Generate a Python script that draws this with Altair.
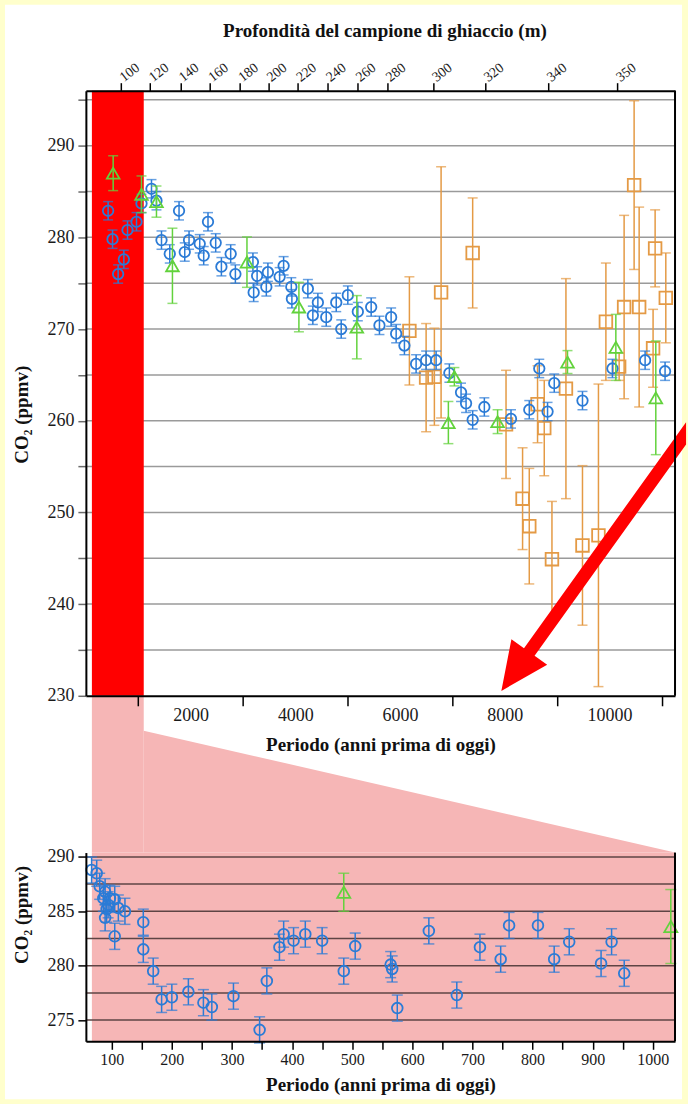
import altair as alt
import pandas as pd

SERIF = "Liberation Serif"
BLUE = "#2B7BD6"
GREEN = "#62D23C"
ORANGE = "#E49A45"
RED = "#FF0000"
PINK = "#F6B6B6"
YELLOW = "#FFFFCC"
GRID_TOP = "#9A9A9A"
GRID_BOT = "#5E4444"

# ---------------- data: upper panel (years before present, CO2 ppmv) ----------------
blue_top_year = [425, 509, 616, 725, 795, 967, 1062, 1253, 1348, 1444,
                 1602, 1779, 1888, 1970, 2174, 2250, 2332, 2479, 2588, 2765,
                 2855, 3190, 3204, 3270, 3446, 3476, 3700, 3776, 3923, 3934,
                 4239, 4334, 4430, 4590, 4781, 4876, 5002, 5193, 5448, 5606,
                 5829, 5925, 6083, 6306, 6497, 6688, 6941, 7164, 7260, 7386,
                 7609, 8118, 8467, 8658, 8816, 8944, 9483, 10055, 10679, 11060]
blue_top_co2 = [282.9, 279.8, 276.0, 277.6, 280.8, 281.7, 283.7, 285.3, 284.0, 279.7,
                278.2, 282.9, 278.4, 279.7, 279.3, 278.0, 281.7, 279.4, 276.8, 278.2,
                276.0, 277.3, 274.0, 275.8, 274.6, 276.2, 275.7, 276.9, 274.6, 273.3,
                274.4, 271.5, 272.9, 271.3, 272.9, 270.0, 273.7, 271.9, 272.4, 270.4,
                271.3, 269.5, 268.2, 266.2, 266.6, 266.6, 265.2, 263.1, 261.9, 260.1,
                261.5, 260.2, 261.2, 265.7, 261.0, 264.1, 262.2, 265.7, 266.6, 265.4]
blue_top_err = [1.0, 1.0, 1.0, 1.0, 1.0, 1.0, 1.0, 1.0, 1.0, 1.0,
                1.0, 1.0, 1.0, 1.0, 1.0, 1.0, 1.0, 1.0, 1.0, 1.0,
                1.0, 1.0, 1.0, 1.0, 1.0, 1.0, 1.0, 1.0, 1.0, 1.0,
                1.0, 1.0, 1.0, 1.0, 1.0, 1.0, 1.0, 1.0, 1.0, 1.0,
                1.0, 1.0, 1.0, 1.0, 1.0, 1.0, 1.0, 1.0, 1.0, 1.0,
                1.0, 1.0, 1.0, 1.0, 1.0, 1.0, 1.0, 1.0, 1.0, 1.0]

green_top_year = [521, 1062, 1348, 1653, 3076, 4068, 5174, 6922, 7037, 7862, 9197, 10120, 10883]
green_top_co2 = [287.0, 284.7, 283.9, 276.9, 277.3, 272.4, 270.2, 259.8, 264.8, 259.9, 266.4, 268.0, 262.5]
green_top_err = [1.9, 2.0, 1.7, 4.1, 2.75, 2.7, 3.45, 2.3, 1.0, 1.3, 1.25, 3.6, 6.2]

orange_year = [6178, 6497, 6655, 6783, 7386, 8023, 8339, 8467, 8625, 8753,
               8900, 9167, 9483, 9788, 9930, 10183, 10278, 10469, 10565, 10870,
               11074, 10831]
orange_co2 = [269.8, 264.7, 264.8, 274.0, 278.3, 259.6, 251.5, 248.5, 261.8, 259.2,
              244.9, 263.5, 246.4, 247.5, 270.8, 265.9, 272.4, 285.7, 272.4, 278.8,
              273.4, 267.9]
orange_err = [5.9, 5.9, 5.3, 13.7, 6.0, 5.9, 5.55, 6.3, 4.2, 5.2,
              6.3, 12.0, 8.7, 16.5, 6.4, 1.5, 10.0, 9.2, 10.9, 4.2,
              4.9, 4.25]

# depth scale (top axis): depth label -> age position
depth_labels = ["100", "120", "140", "160", "180", "200", "220", "240", "260", "280",
                "300", "320", "340", "350"]
depth_ages = [673, 1229, 1802, 2365, 2937, 3485, 4048, 4613, 5185, 5757,
              6641, 7626, 8830, 10153]

bottom_ticks_top = [1000, 2000, 3000, 4000, 5000, 6000, 7000, 8000, 9000, 10000, 11000]
left_ticks_top = [230, 235, 240, 245, 250, 255, 260, 265, 270, 275, 280, 285, 290, 295]
grid_top = [235, 240, 245, 250, 255, 260, 265, 270, 275, 280, 285, 290, 295]

# highlighted period and zoom connector
band_year = [115, 1105]
connector_year = [1105, 11250]
connector_top = [226.2, 212.9]
connector_bottom = 212.9

# arrow anchor (data position of the arrow symbol's centre)
arrow_year = [9802]
arrow_co2 = [244.8]
ARROW_PATH = ("M-0.98,1.31L-0.521,1.048L-0.647,0.958L0.87,-1.157L0.87,-1.381"
              "L-0.753,0.882L-0.879,0.792Z")

# ---------------- data: lower panel (last millennium) ----------------
blue_bot_year = [66.5, 75, 80, 86, 89, 89, 91.5, 94, 97, 105,
                 105, 111, 122, 152.5, 152.5, 169, 183, 200, 227.5, 252.5,
                 266.5, 302.5, 346, 358, 379, 386, 402.5, 422, 450, 486,
                 505, 564, 566.5, 575, 627.5, 674, 712.5, 747, 761, 809,
                 836, 861, 914, 931.5, 952.5]
blue_bot_co2 = [288.8, 288.5, 287.3, 286.2, 286.8, 284.4, 285.2, 285.6, 286.2, 286.1,
                282.7, 285.3, 285.0, 284.0, 281.5, 279.5, 276.9, 277.1, 277.6, 276.6,
                276.2, 277.2, 274.1, 278.6, 281.7, 282.9, 282.3, 282.9, 282.3, 279.5,
                281.8, 280.1, 279.7, 276.1, 283.2, 277.3, 281.7, 280.6, 283.7, 283.7,
                280.6, 282.2, 280.2, 282.2, 279.3]
blue_bot_err = [1.2, 1.2, 1.2, 1.2, 1.2, 1.2, 1.2, 1.2, 1.2, 1.2,
                1.2, 1.2, 1.2, 1.2, 1.2, 1.2, 1.2, 1.2, 1.2, 1.2,
                1.2, 1.2, 1.2, 1.2, 1.2, 1.2, 1.2, 1.2, 1.2, 1.2,
                1.2, 1.2, 1.2, 1.2, 1.2, 1.2, 1.2, 1.2, 1.2, 1.2,
                1.2, 1.2, 1.2, 1.2, 1.2]
green_bot_year = [486, 1030]
green_bot_co2 = [286.75, 283.6]
green_bot_err = [1.75, 3.4]

bottom_ticks_bot = [100, 150, 200, 250, 300, 350, 400, 450, 500, 550, 600, 650, 700,
                    750, 800, 850, 900, 950, 1000]
left_ticks_bot = [275, 280, 285, 290]
grid_bot = [275, 277.5, 280, 282.5, 285, 287.5, 290]
pink_year = [67, 1037]

# ---------------- layout ----------------
TOP_X = [0, 11250]
TOP_Y = [230, 296]
TOP_W, TOP_H = 590, 606
BOT_X = [57, 1037]
BOT_Y = [273.05, 290.4]
BOT_W, BOT_H = 590, 189
GAP = 157

xs_t = alt.Scale(domain=TOP_X, nice=False, zero=False)
ys_t = alt.Scale(domain=TOP_Y, nice=False, zero=False)
xs_b = alt.Scale(domain=BOT_X, nice=False, zero=False)
ys_b = alt.Scale(domain=BOT_Y, nice=False, zero=False)


def frame(years, values, errs):
    return pd.DataFrame({"year": years, "co2": values,
                         "lo": [v - e for v, e in zip(values, errs)],
                         "hi": [v + e for v, e in zip(values, errs)]})


def series(df, xs, ys, color, shape, size, cap):
    base = alt.Chart(df)
    X = alt.X("year:Q", scale=xs, axis=None)
    bar = base.mark_rule(color=color, strokeWidth=1.5).encode(
        x=X, y=alt.Y("lo:Q", scale=ys, axis=None), y2="hi:Q")
    caps = base.transform_fold(["lo", "hi"], as_=["k", "v"]).mark_tick(
        color=color, thickness=1.5, size=cap, orient="horizontal").encode(
        x=X, y=alt.Y("v:Q", scale=ys, axis=None))
    pts = base.mark_point(shape=shape, filled=False, color=color, strokeWidth=1.8,
                          size=size, opacity=1).encode(
        x=X, y=alt.Y("co2:Q", scale=ys, axis=None))
    return [bar, caps, pts]


one = pd.DataFrame({"a": [0]})

# ---- upper panel ----
white = alt.Chart(one).mark_rect(color="white").encode(
    x=alt.value(-81), x2=alt.value(597), y=alt.value(-86), y2=alt.value(1010))

grid_t = alt.Chart(pd.DataFrame({"g": grid_top})).mark_rule(
    color=GRID_TOP, strokeWidth=1.5).encode(y=alt.Y("g:Q", scale=ys_t, axis=None))

strip = alt.Chart(pd.DataFrame({"x0": [band_year[0]], "x1": [band_year[1]],
                                "y0": [TOP_Y[0]], "y1": [connector_bottom]})).mark_rect(
    color=PINK, clip=False).encode(
    x=alt.X("x0:Q", scale=xs_t, axis=None), x2="x1:Q",
    y=alt.Y("y0:Q", scale=ys_t, axis=None), y2="y1:Q")

tri = alt.Chart(pd.DataFrame({"x": connector_year, "y": connector_top,
                              "y2": [connector_bottom, connector_bottom]})).mark_area(
    color=PINK, clip=False, opacity=1).encode(
    x=alt.X("x:Q", scale=xs_t, axis=None),
    y=alt.Y("y:Q", scale=ys_t, axis=None), y2="y2:Q")

band = alt.Chart(pd.DataFrame({"x0": [band_year[0]], "x1": [band_year[1]],
                               "y0": [TOP_Y[0]], "y1": [TOP_Y[1]]})).mark_rect(
    color=RED).encode(
    x=alt.X("x0:Q", scale=xs_t, axis=None), x2="x1:Q",
    y=alt.Y("y0:Q", scale=ys_t, axis=None), y2="y1:Q")

orange_layers = series(frame(orange_year, orange_co2, orange_err), xs_t, ys_t,
                       ORANGE, "square", 160, 10)
blue_layers = series(frame(blue_top_year, blue_top_co2, blue_top_err), xs_t, ys_t,
                     BLUE, "circle", 110, 10)
green_layers = series(frame(green_top_year, green_top_co2, green_top_err), xs_t, ys_t,
                      GREEN, "triangle-up", 160, 10)

arrow = alt.Chart(pd.DataFrame({"x": arrow_year, "y": arrow_co2})).mark_point(
    shape=ARROW_PATH, filled=True, color=RED, opacity=1, size=40000,
    strokeWidth=0, clip=False).encode(
    x=alt.X("x:Q", scale=xs_t, axis=None), y=alt.Y("y:Q", scale=ys_t, axis=None))

right_t = alt.Chart(pd.DataFrame({"x": [TOP_X[1]], "y": [TOP_Y[0]], "y2": [TOP_Y[1]]})).mark_rule(
    color="black", strokeWidth=2).encode(
    x=alt.X("x:Q", scale=xs_t, axis=None), y=alt.Y("y:Q", scale=ys_t, axis=None), y2="y2:Q")

axes_t = alt.Chart(pd.DataFrame({"year": [TOP_X[0]], "co2": [TOP_Y[0]]})).mark_point(
    opacity=0).encode(
    x=alt.X("year:Q", scale=xs_t, axis=alt.Axis(
        values=bottom_ticks_top,
        labelExpr="datum.value % 2000 == 0 ? '' + datum.value : ''",
        tickOpacity={"condition": {"test": "datum.value % 2000 == 0", "value": 0}, "value": 1},
        tickSize=10, tickWidth=1.5, tickColor="black", labelPadding=1,
        domainColor="black", domainWidth=2, grid=False, zindex=1,
        labelFlush=False, labelOverlap=False, labelFontSize=18,
        title="Periodo (anni prima di oggi)", titleX=295, titleY=49,
        titleBaseline="middle", titleFontSize=19)),
    y=alt.Y("co2:Q", scale=ys_t, axis=alt.Axis(
        values=left_ticks_top,
        labelExpr="datum.value % 10 == 0 ? '' + datum.value : ''",
        tickSize=8, tickWidth=1.5, tickColor="#6A6A6A", labelPadding=4,
        domainColor="black", domainWidth=2, grid=False, zindex=1,
        labelFlush=False, labelOverlap=False, labelFontSize=18,
        title="CO₂ (ppmv)", titleX=-64, titleY=324, titleAngle=270,
        titleAlign="center", titleBaseline="middle", titleFontSize=19)))

label_expr_depth = ("[" + ",".join("'%s'" % s for s in depth_labels) + "][indexof(["
                    + ",".join(str(a) for a in depth_ages) + "], datum.value)]")
axes_depth = alt.Chart(pd.DataFrame({"age": depth_ages})).mark_point(opacity=0).encode(
    x=alt.X("age:Q", scale=xs_t, axis=alt.Axis(
        orient="top", values=depth_ages, labelExpr=label_expr_depth,
        labelAngle=322, labelAlign="left", labelBaseline="middle", labelPadding=4,
        tickSize=8, tickWidth=1.5, tickColor="black",
        domainColor="black", domainWidth=2, grid=False, zindex=1,
        labelFlush=False, labelOverlap=False, labelFontSize=14, labelBound=False,
        title="Profondità del campione di ghiaccio (m)", titleX=299, titleY=-60,
        titleBaseline="middle", titleFontSize=19)),
    y=alt.value(0))

top = alt.layer(white, grid_t, strip, tri, band, *orange_layers, *blue_layers,
                *green_layers, arrow, right_t, axes_t, axes_depth).resolve_axis(
    x="independent", y="independent").properties(width=TOP_W, height=TOP_H)

# ---- lower panel ----
pink_bg = alt.Chart(pd.DataFrame({"x0": [pink_year[0]], "x1": [pink_year[1]],
                                  "y0": [BOT_Y[0]], "y1": [BOT_Y[1]]})).mark_rect(
    color=PINK).encode(
    x=alt.X("x0:Q", scale=xs_b, axis=None), x2="x1:Q",
    y=alt.Y("y0:Q", scale=ys_b, axis=None), y2="y1:Q")

grid_b = alt.Chart(pd.DataFrame({"g": grid_bot})).mark_rule(
    color=GRID_BOT, strokeWidth=1.5).encode(y=alt.Y("g:Q", scale=ys_b, axis=None))

blue_b_layers = series(frame(blue_bot_year, blue_bot_co2, blue_bot_err), xs_b, ys_b,
                       BLUE, "circle", 115, 11)
green_b_layers = series(frame(green_bot_year, green_bot_co2, green_bot_err), xs_b, ys_b,
                        GREEN, "triangle-up", 170, 11)

right_b = alt.Chart(pd.DataFrame({"x": [BOT_X[1]], "y": [BOT_Y[0]], "y2": [BOT_Y[1]]})).mark_rule(
    color="black", strokeWidth=2).encode(
    x=alt.X("x:Q", scale=xs_b, axis=None), y=alt.Y("y:Q", scale=ys_b, axis=None), y2="y2:Q")

axes_b = alt.Chart(pd.DataFrame({"year": [BOT_X[0]], "co2": [BOT_Y[0]]})).mark_point(
    opacity=0).encode(
    x=alt.X("year:Q", scale=xs_b, axis=alt.Axis(
        values=bottom_ticks_bot,
        labelExpr="datum.value % 100 == 0 ? '' + datum.value : ''",
        tickSize=8, tickWidth=1.5, tickColor="black", labelPadding=2,
        domainColor="black", domainWidth=2, grid=False, zindex=1,
        labelFlush=False, labelOverlap=False, labelFontSize=16,
        title="Periodo (anni prima di oggi)", titleX=295, titleY=43,
        titleBaseline="middle", titleFontSize=19)),
    y=alt.Y("co2:Q", scale=ys_b, axis=alt.Axis(
        values=left_ticks_bot, format="d",
        tickSize=8, tickWidth=1.5, tickColor="black", labelPadding=4,
        domainColor="black", domainWidth=2, grid=False, zindex=1,
        labelFlush=False, labelOverlap=False, labelFontSize=18,
        title="CO₂ (ppmv)", titleX=-64, titleY=62, titleAngle=270,
        titleAlign="center", titleBaseline="middle", titleFontSize=19)))

bottom = alt.layer(pink_bg, grid_b, *blue_b_layers, *green_b_layers, right_b, axes_b).resolve_axis(
    x="independent", y="independent").properties(width=BOT_W, height=BOT_H)

chart = alt.vconcat(top, bottom, spacing=GAP, bounds="flush").properties(
    background=YELLOW, padding={"left": 5, "top": 4, "right": 1, "bottom": 4}
).configure_view(strokeWidth=0).configure_axis(
    labelFont=SERIF, titleFont=SERIF, titleFontWeight="bold", labelColor="#1A1A1A",
    titleColor="#111")

chart.save("out.html", embed_options={"renderer": "svg", "actions": False})
